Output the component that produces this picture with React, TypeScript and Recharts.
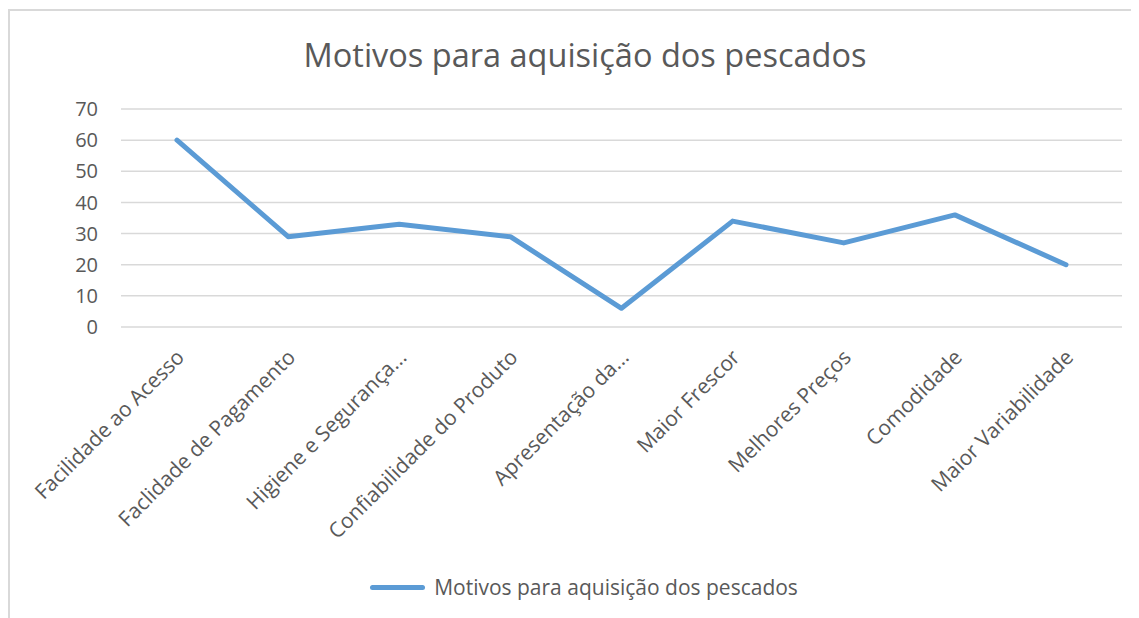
import React from "react";
import { LineChart, Line, XAxis, YAxis, CartesianGrid, Legend } from "recharts";

const categories = [
  "Facilidade ao Acesso",
  "Faclidade de Pagamento",
  "Higiene e Segurança...",
  "Confiabilidade do Produto",
  "Apresentação da...",
  "Maior Frescor",
  "Melhores Preços",
  "Comodidade",
  "Maior Variabilidade",
];
const values = [60, 29, 33, 29, 6, 34, 27, 36, 20];
const yTicks = [0, 10, 20, 30, 40, 50, 60, 70];
const seriesName = "Motivos para aquisição dos pescados";

const data = categories.map((c, i) => ({ name: c, value: values[i] }));

const FONT = "'Open Sans', sans-serif";
const GREY = "#595959";
const BLUE = "#5b9bd5";

const RotatedTick = (props: any) => {
  const { x, y, payload } = props;
  return (
    <g transform={`translate(${x - 2},${y + 21}) rotate(-45)`}>
      <text
        x={0}
        y={0}
        dy="0.71em"
        textAnchor="end"
        fill={GREY}
        fontSize={21}
        fontFamily={FONT}
      >
        {payload.value}
      </text>
    </g>
  );
};

const LegendContent = () => (
  <div
    style={{
      height: 30,
      display: "flex",
      alignItems: "center",
      justifyContent: "center",
      paddingRight: 15,
      fontFamily: FONT,
      fontSize: 21,
      color: GREY,
    }}
  >
    <span
      style={{
        display: "inline-block",
        width: 55,
        height: 5,
        borderRadius: 3,
        background: BLUE,
        marginRight: 9,
      }}
    />
    {seriesName}
  </div>
);

export default function App() {
  return (
    <div
      style={{
        position: "relative",
        width: 1129,
        height: 607,
        marginTop: 1,
        borderTop: "2px solid #d9d9d9",
        borderLeft: "2px solid #d9d9d9",
        background: "#fff",
      }}
    >
      <div
        style={{
          position: "absolute",
          top: 21,
          left: 0,
          width: 1150,
          textAlign: "center",
          fontFamily: FONT,
          fontSize: 32.5,
          color: GREY,
        }}
      >
        {seriesName}
      </div>
      <LineChart
        width={1129}
        height={607}
        data={data}
        margin={{ top: 98, right: 17, bottom: 16, left: 51 }}
      >
        <CartesianGrid vertical={false} stroke="#d9d9d9" strokeWidth={1.5} />
        <XAxis
          dataKey="name"
          interval={0}
          axisLine={false}
          tickLine={false}
          tickSize={0}
          tickMargin={0}
          height={245}
          padding={{ left: 56, right: 56 }}
          tick={<RotatedTick />}
        />
        <YAxis
          width={60}
          domain={[0, 70]}
          ticks={yTicks}
          axisLine={false}
          tickLine={false}
          tickSize={0}
          tickMargin={23}
          tick={{ fill: GREY, fontSize: 20, fontFamily: FONT }}
        />
        <Legend verticalAlign="bottom" content={<LegendContent />} />
        <Line
          type="linear"
          dataKey="value"
          name={seriesName}
          stroke={BLUE}
          strokeWidth={5}
          strokeLinecap="round"
          strokeLinejoin="round"
          dot={false}
          isAnimationActive={false}
        />
      </LineChart>
    </div>
  );
}
